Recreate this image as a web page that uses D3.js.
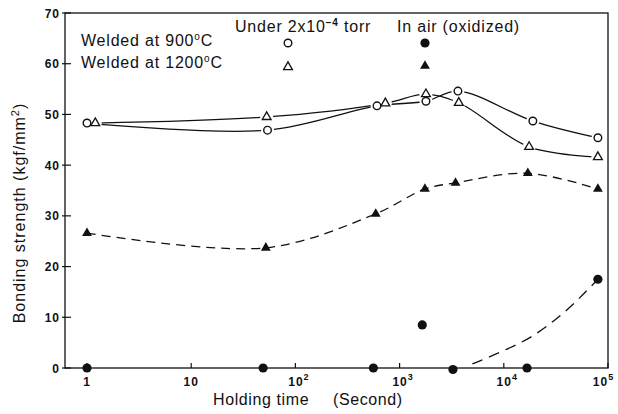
<!DOCTYPE html>
<html>
<head>
<meta charset="utf-8">
<script src="https://cdn.jsdelivr.net/npm/d3@7"></script>
<style>
  body { margin: 0; background: #fff; }
  text { font-family: "Liberation Sans", Arial, sans-serif; fill: #111; }
</style>
</head>
<body>
<div id="chart"></div>
<script>
// holding time (s) vs bonding strength (kgf/mm2)
const vac900  = [[1, 48.3], [54, 46.9], [607, 51.7], [1790, 52.6], [3630, 54.6], [19000, 48.7], [80000, 45.4]];
const vac1200 = [[1.2, 48.3], [53, 49.5], [730, 52.2], [1790, 54.0], [3700, 52.3], [17500, 43.6], [80000, 41.6]];
const air1200 = [[1, 26.6], [52, 23.7], [590, 30.4], [1750, 35.3], [3440, 36.5], [17000, 38.4], [80000, 35.3]];
const air900  = [[1, 0], [49, 0], [560, 0], [1650, 8.5], [3250, -0.3], [16700, 0], [80000, 17.5]];
const air900Fit = [[5000, 0.8], [17800, 6], [40000, 11.4], [80000, 17.5]];

const xTickVals = [1, 10, 100, 1e3, 1e4, 1e5];
const xTickBase = ["1", "10", "10", "10", "10", "10"];
const xTickExp  = ["", "", "2", "3", "4", "5"];
const yTickVals = [0, 10, 20, 30, 40, 50, 60, 70];

const W = 618, H = 414;
const frame = {left: 65, right: 608, top: 13, bottom: 368};

const svg = d3.select("#chart").append("svg")
  .attr("width", W).attr("height", H);

const x = d3.scaleLog().domain([1, 1e5]).range([87, 608]);
const y = d3.scaleLinear().domain([0, 70]).range([368, 13]);

// frame
svg.append("rect")
  .attr("x", frame.left).attr("y", frame.top)
  .attr("width", frame.right - frame.left).attr("height", frame.bottom - frame.top)
  .attr("fill", "none").attr("stroke", "#111").attr("stroke-width", 1.3);

// y ticks + labels
svg.append("g").selectAll("line").data(yTickVals).join("line")
  .attr("x1", frame.left - 3).attr("x2", frame.left + 6)
  .attr("y1", d => y(d)).attr("y2", d => y(d))
  .attr("stroke", "#111").attr("stroke-width", 1.2);
svg.append("g").selectAll("text").data(yTickVals).join("text")
  .attr("x", 60).attr("y", d => y(d)).attr("dy", 4.5)
  .attr("text-anchor", "end")
  .style("font-size", "12px").style("font-weight", "bold").style("letter-spacing", "1px")
  .text(d => d);

// x ticks + labels ("10" part centred on the tick)
svg.append("g").selectAll("line").data(xTickVals).join("line")
  .attr("x1", d => x(d)).attr("x2", d => x(d))
  .attr("y1", frame.bottom).attr("y2", frame.bottom - 5)
  .attr("stroke", "#111").attr("stroke-width", 1.2);
const xl = svg.append("g").selectAll("text").data(xTickVals).join("text")
  .attr("x", (d, i) => Math.min(x(d), 600) + (xTickExp[i] ? 3.5 : 0)).attr("y", 386)
  .attr("text-anchor", "middle")
  .style("font-size", "12px").style("font-weight", "bold").style("letter-spacing", "1px");
xl.append("tspan").text((d, i) => xTickBase[i]);
xl.append("tspan").attr("dy", -6).style("font-size", "9px").text((d, i) => xTickExp[i]);

// axis titles
svg.append("text").attr("x", 213).attr("y", 405)
  .style("font-size", "16px").style("letter-spacing", "0.6px").text("Holding time");
svg.append("text").attr("x", 333).attr("y", 405)
  .style("font-size", "16px").style("letter-spacing", "0.6px").text("(Second)");
const yt = svg.append("text")
  .attr("transform", "translate(25,213) rotate(-90)")
  .attr("text-anchor", "middle")
  .style("font-size", "16px").style("letter-spacing", "1px");
yt.append("tspan").text("Bonding strength (kgf/mm");
yt.append("tspan").attr("dy", -6).style("font-size", "11px").text("2");
yt.append("tspan").attr("dy", 6).text(")");

// lines
const line = d3.line().x(d => x(d[0])).y(d => y(d[1])).curve(d3.curveCatmullRom.alpha(0.5));
svg.append("path").datum(vac900).attr("d", line)
  .attr("fill", "none").attr("stroke", "#111").attr("stroke-width", 1.3);
svg.append("path").datum(vac1200).attr("d", line)
  .attr("fill", "none").attr("stroke", "#111").attr("stroke-width", 1.3);
svg.append("path").datum(air1200).attr("d", line)
  .attr("fill", "none").attr("stroke", "#111").attr("stroke-width", 1.3)
  .attr("stroke-dasharray", "9,6");
svg.append("path").datum(air900Fit).attr("d", line)
  .attr("fill", "none").attr("stroke", "#111").attr("stroke-width", 1.3)
  .attr("stroke-dasharray", "11,7");

// markers
const triOpen = d3.symbol(d3.symbolTriangle, 34);
const triFill = d3.symbol(d3.symbolTriangle, 42);

// white gap round the open markers, as in the drawing
function halo(data) {
  svg.append("g").selectAll("circle").data(data).join("circle")
    .attr("cx", d => x(d[0])).attr("cy", d => y(d[1])).attr("r", 6.5)
    .attr("fill", "#fff");
}
halo(vac900); halo(vac1200);

svg.append("g").selectAll("circle").data(vac900).join("circle")
  .attr("cx", d => x(d[0])).attr("cy", d => y(d[1])).attr("r", 3.8)
  .attr("fill", "#fff").attr("stroke", "#111").attr("stroke-width", 1.4);
svg.append("g").selectAll("path").data(vac1200).join("path")
  .attr("transform", d => `translate(${x(d[0])},${y(d[1])})`)
  .attr("d", triOpen).attr("fill", "#fff").attr("stroke", "#111").attr("stroke-width", 1.3);
svg.append("g").selectAll("path").data(air1200).join("path")
  .attr("transform", d => `translate(${x(d[0])},${y(d[1])})`)
  .attr("d", triFill).attr("fill", "#111");
svg.append("g").selectAll("circle").data(air900).join("circle")
  .attr("cx", d => x(d[0])).attr("cy", d => y(d[1])).attr("r", 4.6)
  .attr("fill", "#111");

// legend
const lg = svg.append("g").style("font-size", "16px").style("letter-spacing", "0.8px");
function degText(tx, ty, label) {
  const t = lg.append("text").attr("x", tx).attr("y", ty);
  t.append("tspan").text(label);
  t.append("tspan").attr("dy", -6).style("font-size", "10px").text("o");
  t.append("tspan").attr("dy", 6).text("C");
}
degText(81, 46, "Welded at 900");
degText(81, 68, "Welded at 1200");
const ut = lg.append("text").attr("x", 235).attr("y", 32);
ut.append("tspan").text("Under 2x10");
ut.append("tspan").attr("dy", -6).style("font-size", "10px").style("font-weight", "bold").text("\u22124");
ut.append("tspan").attr("dy", 6).text(" torr");
lg.append("text").attr("x", 397).attr("y", 32).text("In air (oxidized)");

lg.append("circle").attr("cx", 288).attr("cy", 43).attr("r", 3.8)
  .attr("fill", "#fff").attr("stroke", "#111").attr("stroke-width", 1.4);
lg.append("path").attr("transform", "translate(288,67)").attr("d", triOpen)
  .attr("fill", "#fff").attr("stroke", "#111").attr("stroke-width", 1.3);
lg.append("circle").attr("cx", 425).attr("cy", 43).attr("r", 4.6).attr("fill", "#111");
lg.append("path").attr("transform", "translate(425,66)").attr("d", triFill).attr("fill", "#111");
</script>
</body>
</html>
